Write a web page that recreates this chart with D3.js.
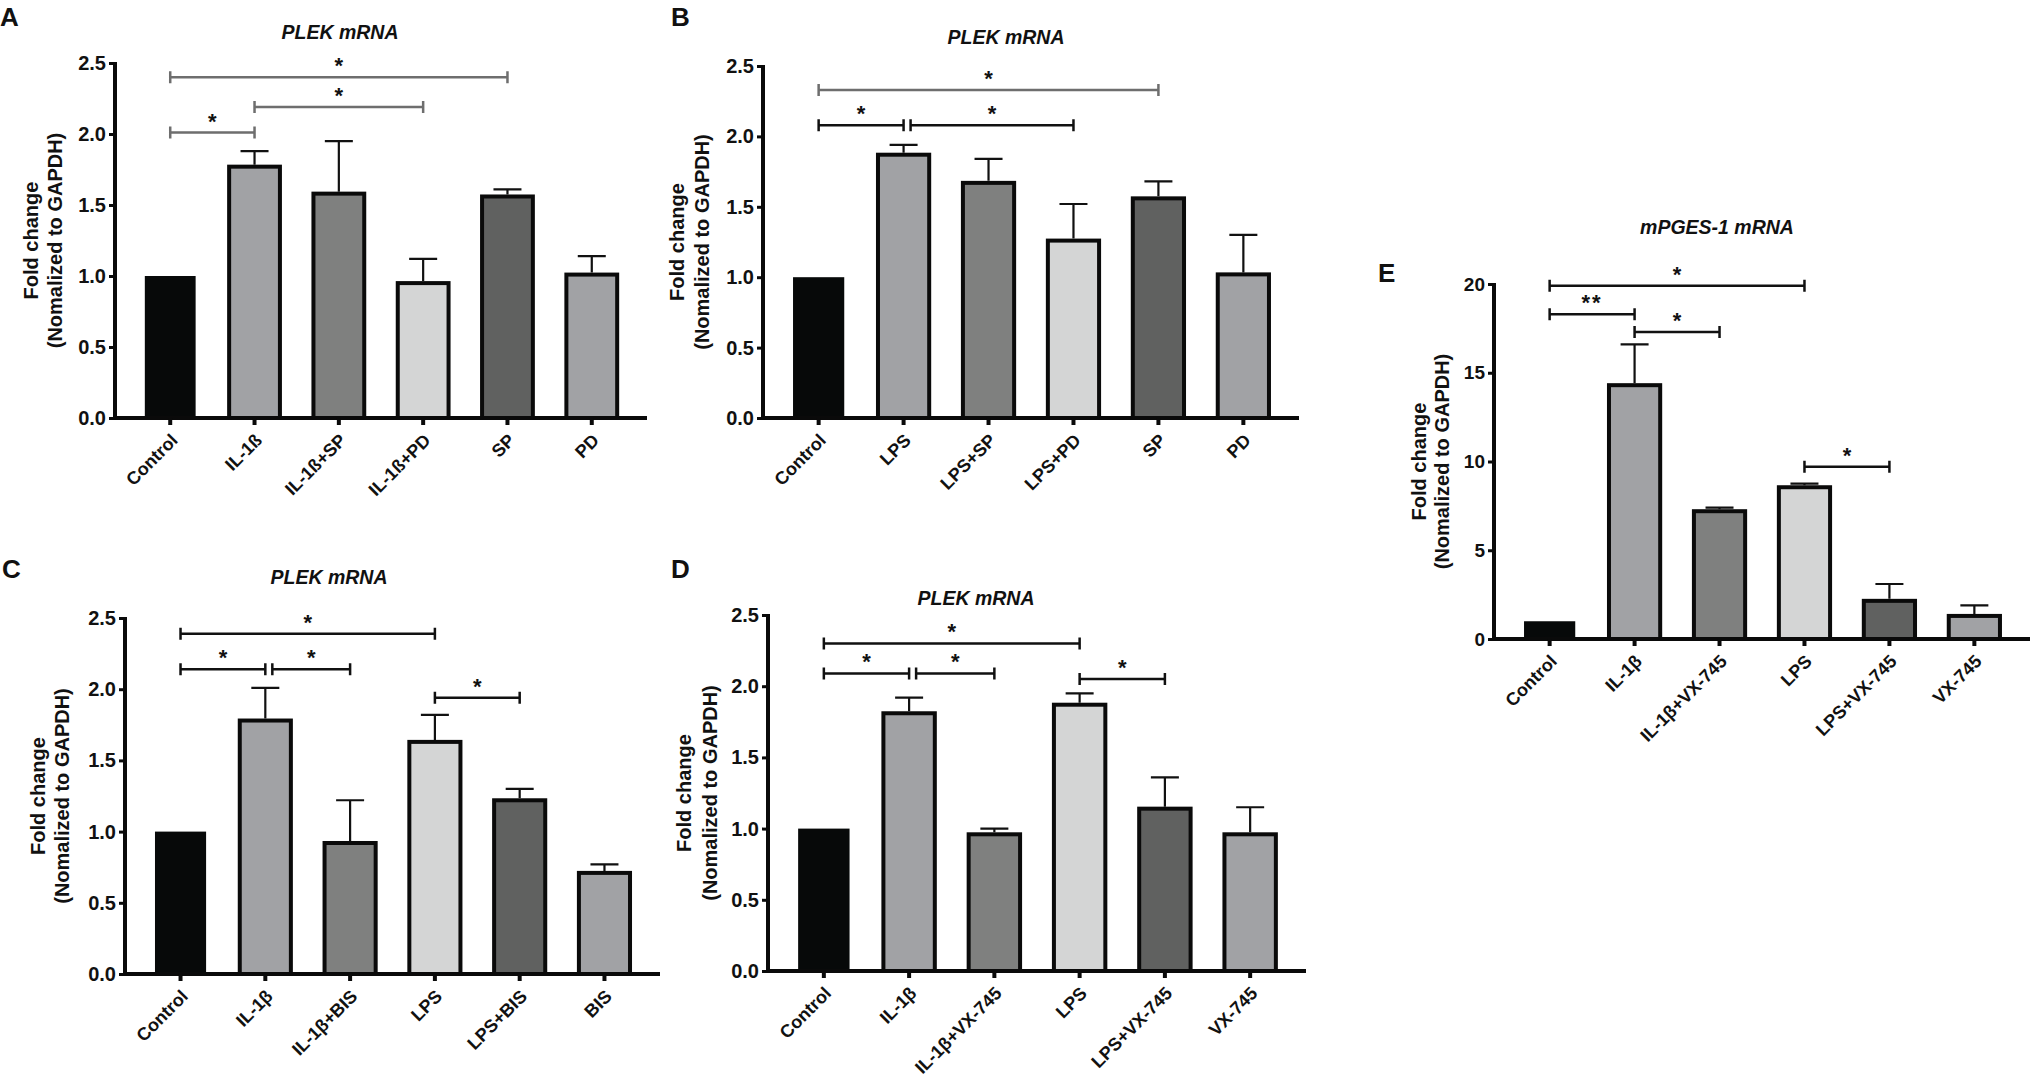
<!DOCTYPE html>
<html>
<head>
<meta charset="utf-8">
<script src="https://cdn.jsdelivr.net/npm/d3@7/dist/d3.min.js"></script>
<style>
  body { margin: 0; background: #fff; }
  svg text { font-family: Arial, "Liberation Sans", Helvetica, sans-serif; font-weight: bold; fill: #111; }
</style>
</head>
<body>
<svg id="fig" width="2032" height="1080"></svg>
<script>
// ---- data ----
const catsA = ["Control", "IL-1ß", "IL-1ß+SP", "IL-1ß+PD", "SP", "PD"];
const meanA = [1.0, 1.77, 1.58, 0.95, 1.56, 1.01];
const semA  = [0, 0.11, 0.37, 0.17, 0.05, 0.13];
const sigA  = [[0, 4, 2.40, "*", "gray"], [1, 3, 2.19, "*", "gray"], [0, 1, 2.01, "*", "gray"]];

const catsB = ["Control", "LPS", "LPS+SP", "LPS+PD", "SP", "PD"];
const meanB = [1.0, 1.87, 1.67, 1.26, 1.56, 1.02];
const semB  = [0, 0.07, 0.17, 0.26, 0.12, 0.28];
const sigB  = [[0, 4, 2.33, "*", "gray"], [0, 1, 2.08, "*", "black"], [1, 3, 2.08, "*", "black"]];

const catsC = ["Control", "IL-1β", "IL-1β+BIS", "LPS", "LPS+BIS", "BIS"];
const meanC = [1.0, 1.78, 0.92, 1.63, 1.22, 0.71];
const semC  = [0, 0.23, 0.30, 0.19, 0.08, 0.06];
const sigC  = [[0, 3, 2.39, "*", "black"], [0, 1, 2.14, "*", "black"], [1, 2, 2.14, "*", "black"], [3, 4, 1.94, "*", "black"]];

const catsD = ["Control", "IL-1β", "IL-1β+VX-745", "LPS", "LPS+VX-745", "VX-745"];
const meanD = [1.0, 1.81, 0.96, 1.87, 1.14, 0.96];
const semD  = [0, 0.11, 0.04, 0.08, 0.22, 0.19];
const sigD  = [[0, 3, 2.30, "*", "black"], [0, 1, 2.09, "*", "black"], [1, 2, 2.09, "*", "black"], [3, 4, 2.05, "*", "black"]];

const catsE = ["Control", "IL-1β", "IL-1β+VX-745", "LPS", "LPS+VX-745", "VX-745"];
const meanE = [1.0, 14.3, 7.2, 8.55, 2.15, 1.3];
const semE  = [0, 2.3, 0.2, 0.2, 0.95, 0.6];
const sigE  = [[0, 3, 19.9, "*", "black"], [0, 1, 18.3, "**", "black"], [1, 2, 17.3, "*", "black"], [3, 4, 9.7, "*", "black"]];

const barFills = ["#070909", "#a1a2a5", "#7f807f", "#d4d5d5", "#606160", "#a1a2a5"];
const lineColors = { gray: "#6e6e6e", black: "#111" };

// ---- layout of the five panels ----
const panels = [
  { letter: "A", lx: 0,    ly: 26,  title: "PLEK mRNA",    tx: 340,  ty: 39,  x0: 115,  x1: 647,  y0: 418, yTop: 63,  max: 2.5, step: 0.5, fmt: ".1f", tf: 20, yt: [-84, -60], cats: catsA, mean: meanA, sem: semA, sig: sigA },
  { letter: "B", lx: 671,  ly: 26,  title: "PLEK mRNA",    tx: 1006, ty: 44,  x0: 763,  x1: 1299, y0: 418, yTop: 66,  max: 2.5, step: 0.5, fmt: ".1f", tf: 20, yt: [-86, -61], cats: catsB, mean: meanB, sem: semB, sig: sigB },
  { letter: "C", lx: 2,    ly: 578, title: "PLEK mRNA",    tx: 329,  ty: 584, x0: 125,  x1: 660,  y0: 974, yTop: 618, max: 2.5, step: 0.5, fmt: ".1f", tf: 20, yt: [-87, -63], cats: catsC, mean: meanC, sem: semC, sig: sigC },
  { letter: "D", lx: 671,  ly: 578, title: "PLEK mRNA",    tx: 976,  ty: 605, x0: 768,  x1: 1306, y0: 971, yTop: 615, max: 2.5, step: 0.5, fmt: ".1f", tf: 20, yt: [-84, -58], cats: catsD, mean: meanD, sem: semD, sig: sigD },
  { letter: "E", lx: 1378, ly: 282, title: "mPGES-1 mRNA", tx: 1717, ty: 234, x0: 1494, x1: 2030, y0: 639, yTop: 284, max: 20,  step: 5,   fmt: "d",   tf: 19, yt: [-75, -52], cats: catsE, mean: meanE, sem: semE, sig: sigE }
];

const svg = d3.select("#fig");
svg.append("rect").attr("width", 2032).attr("height", 1080).attr("fill", "#fff");

panels.forEach(p => drawPanel(p));

function drawPanel(p) {
  const g = svg.append("g");

  const x = d3.scaleBand()
    .domain(p.cats)
    .range([p.x0, p.x1])
    .paddingInner(0.35)
    .paddingOuter(0.33);
  const y = d3.scaleLinear().domain([0, p.max]).range([p.y0, p.yTop]);
  const cx = c => x(c) + x.bandwidth() / 2;

  // panel letter and title
  g.append("text").attr("x", p.lx).attr("y", p.ly)
    .attr("font-size", 26).text(p.letter);
  g.append("text").attr("x", p.tx).attr("y", p.ty)
    .attr("text-anchor", "middle").attr("font-size", 19.5)
    .attr("font-style", "italic").text(p.title);

  // y axis title, two lines
  const midY = (p.y0 + p.yTop) / 2;
  ["Fold change", "(Nomalized to GAPDH)"].forEach((t, i) => {
    g.append("text")
      .attr("transform", `translate(${p.x0 + p.yt[i]},${midY}) rotate(-90)`)
      .attr("text-anchor", "middle")
      .attr("dominant-baseline", "central")
      .attr("font-size", 20)
      .text(t);
  });

  // bars
  g.selectAll(".bar")
    .data(p.cats)
    .enter()
    .append("rect")
    .attr("x", c => x(c) + 2)
    .attr("width", x.bandwidth() - 4)
    .attr("y", (c, i) => y(p.mean[i]))
    .attr("height", (c, i) => p.y0 - y(p.mean[i]))
    .attr("fill", (c, i) => barFills[i])
    .attr("stroke", "#0a0a0a")
    .attr("stroke-width", (c, i) => i === 0 ? 0 : 4);

  // error bars (upper only)
  const errs = p.cats.map((c, i) => ({ c, m: p.mean[i], e: p.sem[i] })).filter(d => d.e > 0);
  g.selectAll(".err")
    .data(errs)
    .enter()
    .append("path")
    .attr("d", d => {
      const xc = cx(d.c), yt = y(d.m + d.e);
      return `M${xc},${y(d.m) - 2}V${yt}M${xc - 14},${yt}H${xc + 14}`;
    })
    .attr("fill", "none")
    .attr("stroke", "#111")
    .attr("stroke-width", 2.2);

  // axes
  const yAxis = d3.axisLeft(y)
    .tickValues(d3.range(0, p.max + p.step / 2, p.step))
    .tickFormat(d3.format(p.fmt))
    .tickSize(6)
    .tickSizeOuter(0)
    .tickPadding(3);
  const ya = g.append("g").attr("transform", `translate(${p.x0},0)`).call(yAxis);
  ya.select(".domain").attr("stroke", "#0a0a0a").attr("stroke-width", 4)
    .attr("d", `M0,${p.y0 + 2}V${p.yTop - 1}`);
  ya.selectAll(".tick line").attr("stroke", "#0a0a0a").attr("stroke-width", 3);
  ya.selectAll(".tick text").attr("font-size", p.tf).attr("fill", "#111")
    .attr("font-family", null);

  const xAxis = d3.axisBottom(x).tickSize(7).tickSizeOuter(0);
  const xa = g.append("g").attr("transform", `translate(0,${p.y0})`).call(xAxis);
  xa.select(".domain").attr("stroke", "#0a0a0a").attr("stroke-width", 4)
    .attr("d", `M${p.x0 - 2},0H${p.x1}`);
  xa.selectAll(".tick line").attr("stroke", "#0a0a0a").attr("stroke-width", 4);
  xa.selectAll(".tick text")
    .attr("font-size", 18).attr("fill", "#111").attr("font-family", null)
    .attr("text-anchor", "end")
    .attr("y", null).attr("dy", "0.35em")
    .attr("transform", "translate(4,19) rotate(-45)");

  // significance brackets
  p.sig.forEach(([a, b, v, lab, col]) => {
    const yy = y(v);
    // leave a small gap when another bracket ends at this bar on the same level
    const shared = p.sig.some(s => s[1] === a && Math.abs(s[2] - v) < 0.05 * p.max);
    const xa0 = cx(p.cats[a]) + (shared ? 7 : 0);
    const xb = cx(p.cats[b]);
    g.append("path")
      .attr("d", `M${xa0},${yy}H${xb}M${xa0},${yy - 6}V${yy + 6}M${xb},${yy - 6}V${yy + 6}`)
      .attr("fill", "none")
      .attr("stroke", lineColors[col])
      .attr("stroke-width", 2.5);
    g.append("text")
      .attr("x", (xa0 + xb) / 2)
      .attr("y", yy - 4)
      .attr("text-anchor", "middle")
      .attr("font-size", 22)
      .attr("letter-spacing", lab.length > 1 ? 2 : 0)
      .text(lab);
  });
}
</script>
</body>
</html>
